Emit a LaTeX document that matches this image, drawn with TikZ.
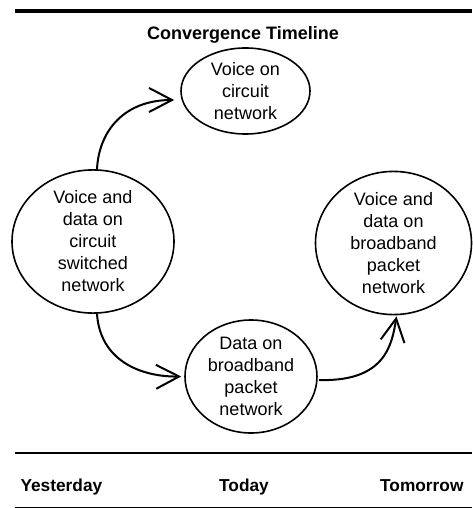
\documentclass[tikz,border=0pt]{standalone}
\usepackage{fontspec}
\setmainfont{Liberation Sans}
\usetikzlibrary{arrows.meta,shapes.geometric}
\begin{document}
\begin{tikzpicture}[x=1pt,y=-1pt,
  bubble/.style={ellipse,draw,line width=1.6pt,inner sep=0pt,align=center,
    font=\fontsize{18}{22}\selectfont},
  flow/.style={line width=2pt,-{Straight Barb[length=23pt,width=24pt,line width=2pt]}},
  label/.style={font=\fontsize{17.3}{20}\bfseries\selectfont,anchor=base},
  rule/.style={line width=#1}]
\useasboundingbox (0,0) rectangle (472,508);
\draw[rule=4pt] (15,11.5) -- (472,11.5);
\node[font=\fontsize{18}{20}\bfseries\selectfont] (title) at (243,35) {Convergence Timeline};
\node[bubble,minimum width=129pt,minimum height=86pt] (vc) at (245.5,91) {Voice on\\circuit\\network};
\node[bubble,minimum width=162pt,minimum height=135pt] (vd) at (93,241.5) {Voice and\\data on\\circuit\\switched\\network};
\node[bubble,minimum width=156pt,minimum height=134pt] (vb) at (393.5,243) {Voice and\\data on\\broadband\\packet\\network};
\node[bubble,minimum width=132pt,minimum height=113pt] (db) at (251,376.5) {Data on\\broadband\\packet\\network};
\coordinate (e1) at ([shift={(-6,9)}]vc.west);
\coordinate (e2) at ([shift={(-3,0)}]db.west);
\coordinate (s3) at ([shift={(1,3.5)}]db.east);
\draw[flow] ([shift={(4,0)}]vd.north) .. controls (99,130) and (125,100) .. (e1);
\draw[flow] ([shift={(4,0)}]vd.south) .. controls (100,360) and (140,377) .. (e2);
\draw[flow] (s3) .. controls (385,382) and (392,345) .. ([shift={(3,1)}]vb.south);
\draw[rule=2pt] (15,453) -- (472,453);
\node[label,anchor=base west] (y) at (17,491) {Yesterday};
\node[label] (t) at (244,491) {Today};
\node[label,anchor=base east] (m) at (467,491) {Tomorrow};
\draw[rule=1pt] (15,507) -- (472,507);
\end{tikzpicture}
\end{document}
